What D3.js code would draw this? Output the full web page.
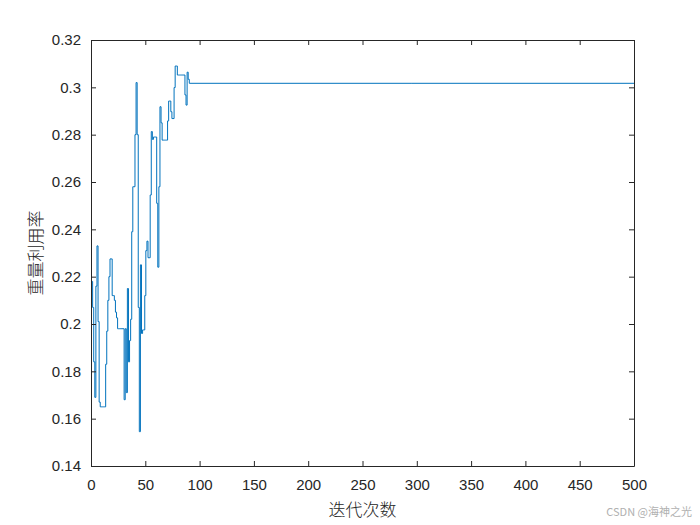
<!DOCTYPE html>
<html>
<head>
<meta charset="utf-8">
<script src="https://cdn.jsdelivr.net/npm/d3@7"></script>
<style>
  html, body { margin: 0; padding: 0; background: #fff; }
  svg { display: block; }
</style>
</head>
<body>
<svg id="chart" width="700" height="525"></svg>
<script>
// ---- data ----
const iterations = [
  1, 2, 3, 4, 5, 6, 7, 8, 9, 10,
  11, 12, 13, 14, 15, 16, 17, 18, 19, 20,
  21, 22, 23, 24, 25, 26, 27, 28, 29, 30,
  31, 32, 33, 34, 35, 36, 37, 38, 39, 40,
  41, 42, 43, 44, 45, 46, 47, 48, 49, 50,
  51, 52, 53, 54, 55, 56, 57, 58, 59, 60,
  61, 62, 63, 64, 65, 66, 67, 68, 69, 70,
  71, 72, 73, 74, 75, 76, 77, 78, 79, 80,
  81, 82, 83, 84, 85, 86, 87, 88, 89, 90,
  91, 500
];
const utilization = [
  0.218, 0.207, 0.184, 0.169, 0.216, 0.233, 0.201, 0.167, 0.165, 0.165,
  0.165, 0.165, 0.165, 0.183, 0.197, 0.210, 0.220, 0.2275, 0.2275, 0.212,
  0.212, 0.210, 0.205, 0.2026, 0.198, 0.198, 0.198, 0.198, 0.198, 0.198,
  0.168, 0.198, 0.171, 0.215, 0.184, 0.193, 0.202, 0.239, 0.258, 0.258,
  0.280, 0.302, 0.280, 0.207, 0.1545, 0.225, 0.196, 0.1975, 0.1975, 0.212,
  0.231, 0.235, 0.228, 0.228, 0.2545, 0.2813, 0.278, 0.279, 0.279, 0.279,
  0.251, 0.224, 0.258, 0.2918, 0.285, 0.2777, 0.2777, 0.2777, 0.2777, 0.2777,
  0.2858, 0.2942, 0.2942, 0.2897, 0.2868, 0.2868, 0.2999, 0.309, 0.309, 0.3052,
  0.3052, 0.3052, 0.3052, 0.3052, 0.3052, 0.3052, 0.2968, 0.2925, 0.3064, 0.3034,
  0.3017, 0.3017
];
const xTicks = [0, 50, 100, 150, 200, 250, 300, 350, 400, 450, 500];
const yTicks = [0.14, 0.16, 0.18, 0.20, 0.22, 0.24, 0.26, 0.28, 0.30, 0.32];
const xLabel = "迭代次数";
const yLabel = "重量利用率";
const watermark = "CSDN @海神之光";

(function () {
// ---- layout ----
const svg = d3.select("#chart");
const pL = 91, pR = 634, pT = 40, pB = 466;
const axisColor = "#262626";
const font = "'Liberation Sans', Arial, Helvetica, sans-serif";

const x = d3.scaleLinear().domain([0, 500]).range([pL, pR]);
const y = d3.scaleLinear().domain([0.14, 0.32]).range([pB, pT]);

const points = iterations.map((it, i) => ({ it, v: utilization[i] }));

// line
const line = d3.line().curve(d3.curveStep).x(d => x(d.it)).y(d => y(d.v));
svg.append("path")
  .datum(points)
  .attr("fill", "none")
  .attr("stroke", "#0072BD")
  .attr("stroke-width", 1)
  .attr("d", line);

// axes
const fmtY = d => (Math.round(d * 100) / 100).toString();

const gB = svg.append("g").attr("transform", `translate(0,${pB})`)
  .call(d3.axisBottom(x).tickValues(xTicks).tickSizeInner(-5).tickSizeOuter(0).tickPadding(13).tickFormat(d3.format("d")));
const gT = svg.append("g").attr("transform", `translate(0,${pT})`)
  .call(d3.axisTop(x).tickValues(xTicks).tickSizeInner(-5).tickSizeOuter(0).tickFormat(""));
const gL = svg.append("g").attr("transform", `translate(${pL},0)`)
  .call(d3.axisLeft(y).tickValues(yTicks).tickSizeInner(-5).tickSizeOuter(0).tickPadding(10).tickFormat(fmtY));
const gR = svg.append("g").attr("transform", `translate(${pR},0)`)
  .call(d3.axisRight(y).tickValues(yTicks).tickSizeInner(-5).tickSizeOuter(0).tickFormat(""));

[gB, gT, gL, gR].forEach(g => {
  g.select(".domain").attr("stroke", axisColor).attr("stroke-width", 1);
  g.selectAll(".tick line").attr("stroke", axisColor).attr("stroke-width", 1);
  g.selectAll(".tick text").attr("fill", axisColor).style("font-family", font).style("font-size", "15px");
});

// axis labels
svg.append("text")
  .attr("x", (pL + pR) / 2)
  .attr("y", 516)
  .attr("text-anchor", "middle")
  .attr("fill", axisColor)
  .style("font-family", "'Noto Sans CJK SC', sans-serif")
  .style("font-size", "17px")
  .style("font-weight", "300")
  .text(xLabel);

svg.append("text")
  .attr("transform", `translate(42,${(pT + pB) / 2}) rotate(-90)`)
  .attr("text-anchor", "middle")
  .attr("fill", axisColor)
  .style("font-family", "'Noto Sans CJK SC', sans-serif")
  .style("font-size", "17px")
  .style("font-weight", "300")
  .text(yLabel);

// watermark
svg.append("text")
  .attr("x", 692)
  .attr("y", 516)
  .attr("text-anchor", "end")
  .attr("fill", "#b0b0b0")
  .style("font-family", "'Noto Sans CJK SC', sans-serif")
  .style("font-size", "11px")
  .text(watermark);
})();
</script>
</body>
</html>
